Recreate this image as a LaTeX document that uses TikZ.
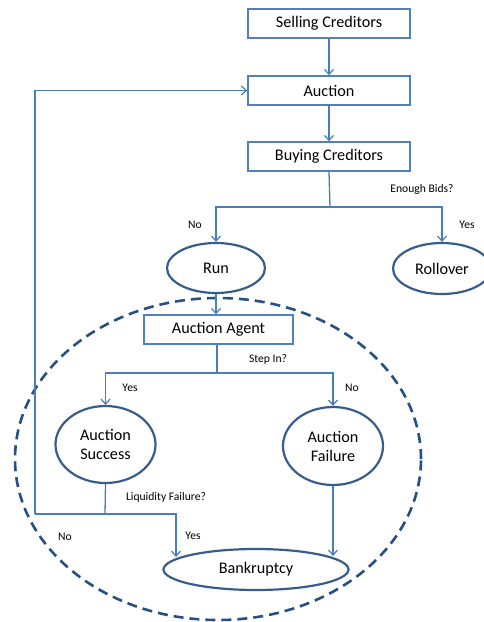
\documentclass[tikz,border=0pt]{standalone}
\usepackage{fontspec}
\setmainfont{Carlito}
\usetikzlibrary{arrows.meta,shapes.geometric}
\definecolor{boxc}{HTML}{4F81BD}
\definecolor{ellc}{HTML}{385D8A}
\definecolor{dashc}{HTML}{254F85}
\definecolor{linec}{HTML}{4A7EBB}
\tikzset{
  stepbox/.style={draw=boxc, line width=1.5pt, minimum width=162pt, minimum height=29pt, inner sep=0pt, font=\fontsize{16.2}{18}\selectfont},
  oval/.style={draw=ellc, line width=2.2pt, ellipse, inner sep=0pt, font=\fontsize{16.2}{19}\selectfont, align=center},
  conn/.style={draw=linec, line width=1.3pt},
  arr/.style={conn, -{Straight Barb[length=5pt,width=9pt,line width=1.2pt]}},
  lbl/.style={font=\fontsize{11.6}{13}\selectfont, inner sep=0pt}
}
\begin{document}
\begin{tikzpicture}[x=1pt,y=-1pt]
\useasboundingbox (0,0) rectangle (483,622);
% dashed region
\node[draw=dashc, line width=2.6pt, dash pattern=on 10pt off 6pt, ellipse, minimum width=406pt, minimum height=322pt, inner sep=0pt] (region) at (218,459) {};
% boxes
\node[stepbox] (sell) at (329,23.5) {Selling Creditors};
\node[stepbox] (auc) at (329,90.5) {Auction};
\node[stepbox] (buy) at (329,156.5) {Buying Creditors};
\node[stepbox, minimum width=149pt] (agent) at (218.5,329.5) {Auction Agent};
% ovals
\node[oval, minimum width=98pt, minimum height=50pt] (run) at (216,268) {Run};
\node[oval, minimum width=98pt, minimum height=51pt] (roll) at (442,268.5) {Rollover};
\node[oval, minimum width=100pt, minimum height=77pt] (succ) at (105.5,444.5) {Auction\\Success};
\node[oval, minimum width=100pt, minimum height=78pt] (fail) at (333,446) {Auction\\Failure};
\node[oval, minimum width=185pt, minimum height=41pt] (bank) at (256,569.5) {Bankruptcy};
% junctions
\coordinate (j1) at (330,207);
\coordinate (j2) at (217,373);
\coordinate (j3) at (105,514);
\coordinate (j4) at (35,514);
\coordinate (bk1) at (176,557);
\coordinate (bk2) at (333,556);
% connectors
\draw[arr] (sell.south) -- (auc.north);
\draw[arr] (auc.south) -- (buy.north);
\draw[conn] (buy.south) -- (j1);
\draw[arr] (j1) -| (run.north);
\draw[arr] (j1) -| (roll.north);
\draw[arr] (run.south) -- (run.south |- agent.north);
\draw[conn] (agent.south -| j2) -- (j2);
\draw[arr] (j2) -| (succ.north);
\draw[arr] (j2) -| (fail.north);
\draw[conn] (succ.south) -- (j3);
\draw[arr] (j3) -| (bk1);
\draw[conn] (j3) -- (j4);
\draw[arr] (j4) |- (auc.west);
\draw[arr] (fail.south) -- (bk2);
% labels
\node[lbl] (l1) at (422,189) {Enough Bids?};
\node[lbl] (l2) at (195,225) {No};
\node[lbl] (l3) at (467,225) {Yes};
\node[lbl] (l4) at (268,359) {Step In?};
\node[lbl] (l5) at (130,388) {Yes};
\node[lbl] (l6) at (352,388) {No};
\node[lbl] (l7) at (166,497) {Liquidity Failure?};
\node[lbl] (l8) at (193,536) {Yes};
\node[lbl] (l9) at (65,537) {No};
\end{tikzpicture}
\end{document}
